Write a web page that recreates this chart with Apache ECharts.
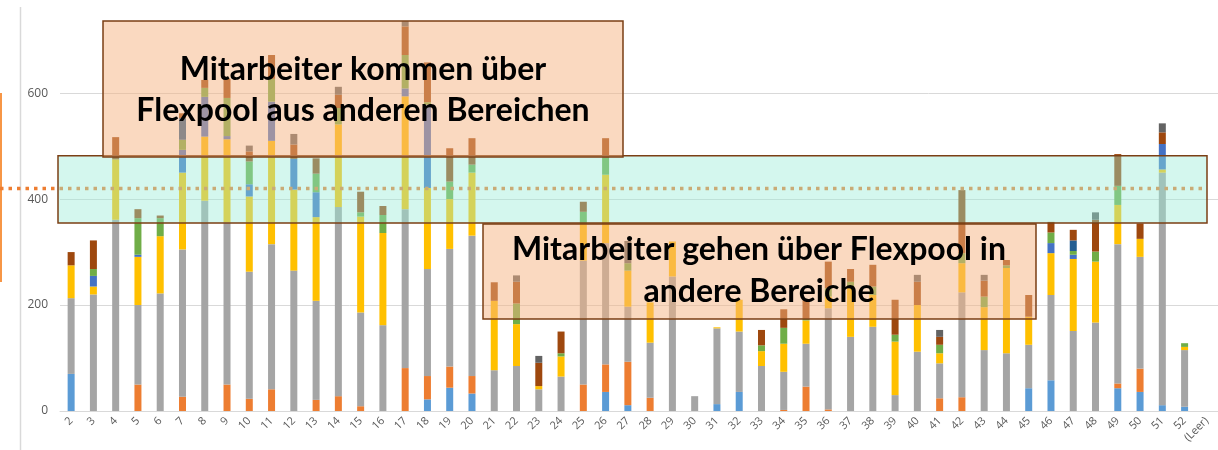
<!DOCTYPE html>
<html>
<head>
<meta charset="utf-8">
<script src="https://cdn.jsdelivr.net/npm/echarts@6/dist/echarts.min.js"></script>
<style>
  html, body { margin: 0; padding: 0; background: #fff; }
  #chart { width: 1218px; height: 450px; }
</style>
</head>
<body>
<div id="chart"></div>
<script>
// Kalenderwochen
var categories = ["2","3","4","5","6","7","8","9","10","11",
  "12","13","14","15","16","17","18","19","20","21",
  "22","23","24","25","26","27","28","29","30","31",
  "32","33","34","35","36","37","38","39","40","41",
  "42","43","44","45","46","47","48","49","50","51",
  "52","(Leer)"];

var yTicks = [0, 200, 400, 600];

// Werte je Serie (von unten nach oben gestapelt)
var s1 = [70,0,0,0,0,0,0,0,0,0, 0,0,0,0,0,0,22,44,33,0, 0,0,0,0,36,11,0,0,0,13, 36,0,0,0,0,0,0,0,0,0, 0,0,0,43,58,0,0,43,36,11, 8,0];
var s2 = [0,0,0,50,0,27,0,50,23,41, 0,21,28,9,0,81,44,40,33,0, 0,0,0,50,52,82,25,0,0,0, 0,0,2,46,3,0,0,0,0,24, 26,0,0,0,0,0,0,9,44,0, 0,0];
var s3 = [143,220,361,150,222,278,397,306,240,274, 265,187,357,177,162,300,202,222,265,77, 85,41,65,234,229,104,104,254,28,143, 114,85,72,81,191,140,159,30,112,66, 198,115,109,82,161,151,167,263,211,439, 107,0];
var s4 = [62,15,114,91,108,145,121,157,142,195, 153,158,156,181,174,213,153,94,119,131, 79,6,38,69,129,68,76,66,0,2, 60,28,53,44,22,92,60,101,88,19, 55,81,161,53,79,136,115,74,34,6, 6,0];
var s5 = [0,20,0,4,0,43,75,6,23,74, 58,47,0,0,0,15,157,0,0,0, 0,0,0,0,0,0,0,0,0,0, 0,0,0,0,0,0,0,0,0,0, 0,0,0,0,19,8,0,0,0,48, 0,0];
var s6 = [0,13,0,69,34,19,17,72,43,43, 0,35,31,8,34,63,5,33,15,0, 39,0,6,23,32,14,0,0,0,0, 0,11,30,3,16,12,16,13,0,16, 19,20,5,0,20,7,19,36,0,0, 7,0];
var s7 = [0,0,0,0,0,41,0,0,0,0, 0,0,0,0,0,0,0,0,0,0, 0,0,0,0,0,0,0,0,0,0, 0,0,0,0,0,0,0,0,0,0, 0,0,0,0,0,20,0,0,0,0, 0,0];
var s8 = [25,54,42,17,5,9,15,36,19,45, 27,29,25,39,17,54,75,63,50,35, 41,44,41,19,37,0,0,0,0,0, 0,29,35,35,50,24,41,66,44,15, 119,30,10,41,20,20,60,60,29,22, 0,0];
var s9 = [0,0,0,0,0,0,0,0,11,0, 20,0,15,0,0,10,0,0,0,0, 12,13,0,0,0,42,0,0,0,0, 0,0,0,0,0,0,0,0,13,13, 0,11,0,0,0,0,14,0,0,17, 0,0];

// Flexpool-Linie und Band
var flexLine = 420;
var bandLow = 355;
var bandHigh = 482;

var seriesData = [s1, s2, s3, s4, s5, s6, s7, s8, s9];
var colors = ["#5B9BD5", "#ED7D31", "#A5A5A5", "#FFC000", "#4472C4",
  "#70AD47", "#255E91", "#9E480E", "#636363"];

var series = [];
for (var i = 0; i < seriesData.length; i++) {
  series.push({
    name: "Bereich " + (i + 1),
    type: "bar",
    stack: "gesamt",
    barWidth: 7,
    data: seriesData[i],
    itemStyle: { color: colors[i] }
  });
}

var chart = echarts.init(document.getElementById("chart"));
chart.setOption({
  animation: false,
  grid: {
    left: 60,
    right: 0,
    top: 19,
    bottom: 39,
    containLabel: false,
    outerBoundsMode: "none"
  },
  xAxis: {
    type: "category",
    data: categories,
    axisTick: { show: false },
    axisLine: { lineStyle: { color: "#D9D9D9", width: 1 } },
    axisLabel: {
      interval: 0,
      rotate: 45,
      margin: 8,
      color: "#595959",
      fontSize: 11,
      fontFamily: "Open Sans"
    }
  },
  yAxis: {
    type: "value",
    min: 0,
    max: 740,
    interval: 200,
    axisLine: { show: false },
    axisTick: { show: false },
    splitLine: {
      showMaxLine: false,
      lineStyle: { color: "#D9D9D9", width: 1 }
    },
    axisLabel: {
      showMaxLabel: false,
      margin: 12,
      color: "#595959",
      fontSize: 12,
      fontFamily: "Open Sans",
      formatter: function (v) {
        return yTicks.indexOf(v) >= 0 ? String(v) : "";
      }
    }
  },
  series: series
});

var yFlex = chart.convertToPixel({ yAxisIndex: 0 }, flexLine);
var yBandTop = chart.convertToPixel({ yAxisIndex: 0 }, bandHigh);
var yBandBottom = chart.convertToPixel({ yAxisIndex: 0 }, bandLow);

var boxStroke = "#7B3F14";
var peach = "rgba(245,180,130,0.5)";
var textFont = "bold 32px Lato";

chart.setOption({
  graphic: [
    {
      type: "line",
      z: 50,
      shape: { x1: 20.5, y1: 7, x2: 20.5, y2: 450 },
      style: { stroke: "#D9D9D9", lineWidth: 1.5 }
    },
    {
      type: "line",
      z: 50,
      shape: { x1: 1, y1: 93, x2: 1, y2: 282 },
      style: { stroke: "#F79646", lineWidth: 2 }
    },
    {
      type: "line",
      z: 51,
      shape: { x1: 0, y1: yFlex, x2: 1204, y2: yFlex },
      style: { stroke: "#ED7D31", lineWidth: 3.5, lineDash: [3.5, 5] }
    },
    {
      type: "rect",
      z: 52,
      shape: { x: 58, y: yBandTop, width: 1149, height: yBandBottom - yBandTop },
      style: { fill: "rgba(152,236,214,0.42)", stroke: boxStroke, lineWidth: 1.5 }
    },
    {
      type: "rect",
      z: 53,
      shape: { x: 103, y: 21, width: 520, height: 136 },
      style: { fill: peach, stroke: boxStroke, lineWidth: 1.5 }
    },
    {
      type: "rect",
      z: 53,
      shape: { x: 483, y: 224, width: 553, height: 95 },
      style: { fill: peach, stroke: boxStroke, lineWidth: 1.5 }
    },
    {
      type: "text",
      z: 54,
      x: 363,
      y: 90,
      style: {
        text: "Mitarbeiter kommen über\nFlexpool aus anderen Bereichen",
        font: textFont,
        fill: "#000",
        align: "center",
        verticalAlign: "middle",
        textAlign: "center",
        textVerticalAlign: "middle",
        lineHeight: 41
      }
    },
    {
      type: "text",
      z: 54,
      x: 759,
      y: 271,
      style: {
        text: "Mitarbeiter gehen über Flexpool in\nandere Bereiche",
        font: textFont,
        fill: "#000",
        align: "center",
        verticalAlign: "middle",
        textAlign: "center",
        textVerticalAlign: "middle",
        lineHeight: 42
      }
    }
  ]
});
</script>
</body>
</html>
